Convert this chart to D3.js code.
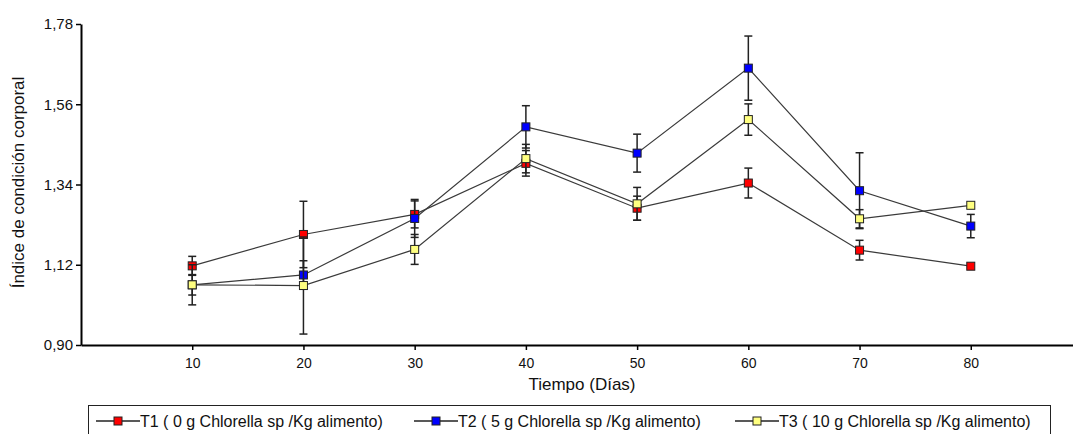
<!DOCTYPE html>
<html>
<head>
<meta charset="utf-8">
<script src="https://cdn.jsdelivr.net/npm/d3@7"></script>
<style>
  body { margin: 0; background: #fff; }
  svg { display: block; font-family: "Liberation Sans", Arial, sans-serif; }
</style>
</head>
<body>
<div id="chart"></div>
<script>
// data
const days = [10, 20, 30, 40, 50, 60, 70, 80];
const t1 = [1.117, 1.203, 1.258, 1.398, 1.275, 1.344, 1.160, 1.116];
const t1Err = [0.026, 0.091, 0.037, 0.035, 0.033, 0.041, 0.027, 0];
const t2 = [1.065, 1.092, 1.247, 1.498, 1.426, 1.659, 1.323, 1.226];
const t2Err = [0.055, 0.039, 0.052, 0.058, 0.052, 0.088, 0.104, 0.032];
const t3 = [1.065, 1.063, 1.162, 1.411, 1.287, 1.518, 1.246, 1.283];
const t3Err = [0.028, 0.133, 0.041, 0.039, 0.045, 0.043, 0.025, 0];
const yTicks = [0.90, 1.12, 1.34, 1.56, 1.78];
const seriesNames = [
  "T1 ( 0 g Chlorella sp /Kg alimento)",
  "T2 ( 5 g Chlorella sp /Kg alimento)",
  "T3 ( 10 g Chlorella sp /Kg alimento)"
];
const seriesColors = ["#ff0000", "#0000ff", "#ffff80"];

const width = 1073, height = 434;

const svg = d3.select("#chart")
  .append("svg")
  .attr("width", width)
  .attr("height", height);

const x = d3.scaleLinear().domain([0, 90]).range([81, 1082]);
const y = d3.scaleLinear().domain([0.9, 1.78]).range([345, 24]);

const series = [
  { name: seriesNames[0], vals: t1, err: t1Err, color: seriesColors[0] },
  { name: seriesNames[1], vals: t2, err: t2Err, color: seriesColors[1] },
  { name: seriesNames[2], vals: t3, err: t3Err, color: seriesColors[2] }
];

// axes
const xAxis = svg.append("g")
  .attr("transform", `translate(0,${y(0.9)})`)
  .call(d3.axisBottom(x).tickValues(days).tickSize(5).tickPadding(8).tickSizeOuter(0));
xAxis.select(".domain").attr("stroke-width", 2);
xAxis.selectAll(".tick text").attr("font-size", 14);

const yAxis = svg.append("g")
  .attr("transform", `translate(${x(0)},0)`)
  .call(d3.axisLeft(y).tickValues(yTicks).tickSize(5).tickPadding(3).tickSizeOuter(0)
    .tickFormat(d => d3.format(".2f")(d).replace(".", ",")));
yAxis.select(".domain").attr("stroke-width", 2);
yAxis.selectAll(".tick text").attr("font-size", 15);

svg.selectAll(".tick text")
  .attr("fill", "#111")
  .attr("font-family", "Liberation Sans, Arial, sans-serif");
svg.selectAll(".tick line").attr("stroke-width", 1.5);

svg.append("text")
  .attr("x", 582)
  .attr("y", 390)
  .attr("text-anchor", "middle")
  .attr("font-size", 17)
  .attr("fill", "#111")
  .text("Tiempo (Días)");

svg.append("text")
  .attr("transform", `translate(24,${(y(0.9) + y(1.78)) / 2 - 2}) rotate(-90)`)
  .attr("text-anchor", "middle")
  .attr("font-size", 17)
  .attr("fill", "#111")
  .text("Índice de condición corporal");

const line = d3.line()
  .x((d, i) => x(days[i]))
  .y(d => y(d));

series.forEach(s => {
  const g = svg.append("g");

  g.append("path")
    .datum(s.vals)
    .attr("fill", "none")
    .attr("stroke", "#3a3a3a")
    .attr("stroke-width", 1.2)
    .attr("d", line);

  const bars = s.vals.map((v, i) => ({ day: days[i], v: v, e: s.err[i] })).filter(d => d.e > 0);

  g.selectAll(".bar")
    .data(bars)
    .join("line")
    .attr("x1", d => x(d.day)).attr("x2", d => x(d.day))
    .attr("y1", d => y(d.v - d.e)).attr("y2", d => y(d.v + d.e))
    .attr("stroke", "#222").attr("stroke-width", 1.5);

  g.selectAll(".capTop")
    .data(bars)
    .join("line")
    .attr("x1", d => x(d.day) - 4).attr("x2", d => x(d.day) + 4)
    .attr("y1", d => y(d.v + d.e)).attr("y2", d => y(d.v + d.e))
    .attr("stroke", "#222").attr("stroke-width", 1.5);

  g.selectAll(".capBot")
    .data(bars)
    .join("line")
    .attr("x1", d => x(d.day) - 4).attr("x2", d => x(d.day) + 4)
    .attr("y1", d => y(d.v - d.e)).attr("y2", d => y(d.v - d.e))
    .attr("stroke", "#222").attr("stroke-width", 1.5);

  g.selectAll(".pt")
    .data(s.vals)
    .join("rect")
    .attr("x", (d, i) => x(days[i]) - 4)
    .attr("y", d => y(d) - 4)
    .attr("width", 8)
    .attr("height", 8)
    .attr("fill", s.color)
    .attr("stroke", "#222")
    .attr("stroke-width", 1);
});

// legend
const legend = svg.append("g");
legend.append("rect")
  .attr("x", 88.5).attr("y", 405.5)
  .attr("width", 962).attr("height", 40)
  .attr("fill", "#fff").attr("stroke", "#222").attr("stroke-width", 1);

const legendX = [96, 414, 735];
series.forEach((s, i) => {
  const lg = legend.append("g").attr("transform", `translate(${legendX[i]},421)`);
  lg.append("line").attr("x1", 0).attr("x2", 44).attr("y1", 0).attr("y2", 0)
    .attr("stroke", "#222").attr("stroke-width", 1.5);
  lg.append("rect").attr("x", 18).attr("y", -4).attr("width", 8).attr("height", 8)
    .attr("fill", s.color).attr("stroke", "#222");
  lg.append("text").attr("x", 44).attr("y", 6)
    .attr("font-size", 16).attr("fill", "#111")
    .text(s.name);
});
</script>
</body>
</html>
